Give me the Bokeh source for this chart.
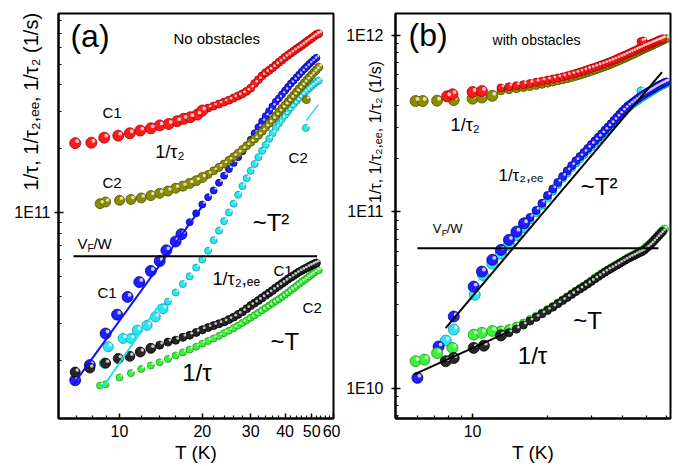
from bokeh.plotting import figure
from bokeh.layouts import row
from bokeh.models import FixedTicker, CustomJSTickFormatter, Label, Range1d
from bokeh.embed import file_html
from bokeh.resources import INLINE

FONT = "Liberation Sans"
E11 = 1e11  # all rate arrays below are in units of 1E11 1/s

# ------------------------- Panel (a): no obstacles -------------------------
a_C1_tau2_T = [6.9, 7.9, 8.8, 9.9, 10.9, 11.9, 13.0, 14.0, 15.1, 16.2, 17.1, 18.1, 19.2, 20.0,
               21, 22, 23, 24, 25, 26, 27, 28, 29, 30, 31, 32, 33, 34, 35, 36, 37, 38, 39, 40,
               41, 42, 43, 44, 45, 46, 47, 48, 49, 50, 51, 52, 53]
a_C1_tau2 = [2.12, 2.13, 2.25, 2.30, 2.36, 2.43, 2.49, 2.57, 2.61, 2.69, 2.76, 2.81, 2.89, 3.02,
             3.10, 3.17, 3.24, 3.31, 3.38, 3.46, 3.54, 3.62, 3.72, 3.85, 4.05, 4.22, 4.40, 4.55,
             4.67, 4.80, 4.95, 5.10, 5.23, 5.38, 5.50, 5.63, 5.76, 5.88, 6.00, 6.12, 6.25, 6.38,
             6.50, 6.62, 6.75, 6.88, 6.95]

a_C2_tau2_T = [8.5, 8.9, 10, 11, 12, 13, 14, 15, 16, 17, 18, 19, 20, 21, 22, 23, 24, 25, 26, 27,
               28, 29, 30, 31, 32, 33, 34, 35, 36, 37, 38, 39, 40, 41, 42, 43, 44, 45, 46, 47, 48,
               49, 50, 51, 52, 53, 47.8]
a_C2_tau2 = [1.10, 1.12, 1.14, 1.15, 1.17, 1.20, 1.23, 1.26, 1.30, 1.33, 1.37, 1.41, 1.46, 1.51,
             1.57, 1.63, 1.69, 1.76, 1.83, 1.90, 1.98, 2.06, 2.14, 2.22, 2.31, 2.41, 2.52, 2.63,
             2.74, 2.85, 2.97, 3.09, 3.20, 3.32, 3.44, 3.56, 3.69, 3.82, 3.95, 4.08, 4.20, 4.33,
             4.45, 4.58, 4.70, 4.83, 3.40]

a_C1_ee_T = [6.9, 7.8, 8.9, 9.8, 10.7, 11.8, 13.0, 14.0, 14.8, 16.0, 16.8, 18, 19, 20, 21, 22,
             23, 24, 25, 26, 27, 28, 29, 30, 31, 32, 33, 34, 35, 36, 37, 38, 39, 40, 41, 42, 43,
             44, 45, 46, 47, 48, 49, 50, 51, 52]
a_C1_ee = [0.162, 0.191, 0.269, 0.330, 0.40, 0.47, 0.53, 0.59, 0.663, 0.73, 0.79, 0.90, 0.99,
           1.09, 1.18, 1.27, 1.38, 1.49, 1.60, 1.71, 1.82, 1.94, 2.06, 2.20, 2.36, 2.52, 2.68,
           2.84, 3.00, 3.16, 3.32, 3.45, 3.60, 3.75, 3.90, 4.05, 4.18, 4.32, 4.46, 4.60, 4.74,
           4.87, 5.00, 5.12, 5.25, 5.35]

a_C2_ee_T = [8.8, 9.1, 10.3, 11.0, 11.6, 12.6, 13.5, 14.4, 15, 16, 17, 18, 19, 20, 21, 22, 23,
             24, 25, 26, 27, 28, 29, 30, 31, 32, 33, 34, 35, 36, 37, 38, 39, 40, 41, 42, 43, 44,
             45, 46, 47, 48, 49, 50, 51, 52, 53, 47.6]
a_C2_ee = [0.195, 0.233, 0.255, 0.255, 0.279, 0.294, 0.322, 0.352, 0.38, 0.42, 0.46, 0.50, 0.55,
           0.60, 0.66, 0.74, 0.82, 0.91, 1.00, 1.10, 1.21, 1.33, 1.45, 1.57, 1.69, 1.82, 1.95,
           2.08, 2.22, 2.36, 2.50, 2.63, 2.76, 2.88, 3.00, 3.12, 3.24, 3.35, 3.46, 3.57, 3.67,
           3.76, 3.85, 3.94, 4.03, 4.11, 4.18, 2.50]

a_C1_tau_T = [6.9, 7.8, 8.9, 9.9, 10.9, 11.9, 13, 14, 15, 16, 17, 18, 19, 20, 21, 22, 23, 24, 25,
              26, 27, 28, 29, 30, 31, 32, 33, 34, 35, 36, 37, 38, 39, 40, 41, 42, 43, 44, 45, 46,
              47, 48, 49, 50, 51, 52]
a_C1_tau = [0.177, 0.185, 0.195, 0.205, 0.210, 0.220, 0.229, 0.237, 0.245, 0.250, 0.258, 0.264,
            0.272, 0.280, 0.287, 0.293, 0.299, 0.305, 0.313, 0.321, 0.331, 0.341, 0.352, 0.364,
            0.374, 0.385, 0.396, 0.407, 0.418, 0.429, 0.441, 0.452, 0.463, 0.474, 0.485, 0.495,
            0.505, 0.515, 0.525, 0.533, 0.541, 0.549, 0.557, 0.564, 0.571, 0.578]

a_C2_tau_T = [8.5, 8.9, 10, 11, 12, 13, 14, 15, 16, 17, 18, 19, 20, 21, 22, 23, 24, 25, 26, 27,
              28, 29, 30, 31, 32, 33, 34, 35, 36, 37, 38, 39, 40, 41, 42, 43, 44, 45, 46, 47, 48,
              49, 50, 51, 52, 53]
a_C2_tau = [0.153, 0.155, 0.167, 0.175, 0.183, 0.190, 0.197, 0.204, 0.212, 0.219, 0.226, 0.233,
            0.241, 0.248, 0.255, 0.262, 0.270, 0.277, 0.285, 0.293, 0.302, 0.310, 0.319, 0.328,
            0.337, 0.346, 0.355, 0.364, 0.373, 0.382, 0.391, 0.400, 0.410, 0.420, 0.430, 0.440,
            0.450, 0.461, 0.471, 0.480, 0.490, 0.500, 0.510, 0.520, 0.530, 0.534]

a_fitC1_T = [6.8, 20.0]
a_fitC1 = [0.155, 1.07]
a_fitC2_T = [8.6, 14.0]
a_fitC2 = [0.147, 0.37]
a_markC2_T = [47.8, 52.9]
a_markC2 = [2.71, 3.22]
a_vfw_T = [6.8, 52.3]
a_vfw = [0.621, 0.621]

# ------------------------- Panel (b): with obstacles -----------------------
b_C1_tau2_T = [7.9, 8.3, 10.0, 10.9, 13, 14, 15, 16, 17, 18, 19, 20, 21, 22, 23, 24, 25, 26, 27,
               28, 29, 30, 31, 32, 33, 34, 35, 36, 37, 38, 39, 40, 41, 42, 43, 44, 45, 46, 47,
               48, 49, 50, 51, 52, 53, 54, 55, 56, 57, 58, 47.5, 48.5]
b_C1_tau2 = [4.52, 4.64, 4.78, 4.84, 5.04, 5.12, 5.19, 5.26, 5.34, 5.42, 5.50, 5.58, 5.66, 5.74,
             5.82, 5.91, 6.00, 6.10, 6.20, 6.30, 6.41, 6.51, 6.61, 6.71, 6.81, 6.92, 7.03, 7.14,
             7.25, 7.37, 7.49, 7.61, 7.73, 7.85, 7.97, 8.09, 8.21, 8.33, 8.45, 8.57, 8.67, 8.77,
             8.87, 8.97, 9.07, 9.17, 9.27, 9.37, 9.47, 9.57, 9.20, 9.30]

b_C2_tau2_T = [5.9, 6.3, 7.2, 8.4, 10.0, 10.9, 12.0, 13, 14, 15, 16, 17, 18, 19, 20, 21, 22, 23,
               24, 25, 26, 27, 28, 29, 30, 31, 32, 33, 34, 35, 36, 37, 38, 39, 40, 41, 42, 43, 44,
               45, 46, 47, 48, 49, 50, 51, 52, 53, 54, 55, 56, 57, 58, 59, 60]
b_C2_tau2 = [4.25, 4.25, 4.27, 4.30, 4.38, 4.45, 4.55, 4.85, 4.92, 4.99, 5.06, 5.13, 5.21, 5.28,
             5.36, 5.44, 5.52, 5.60, 5.68, 5.77, 5.86, 5.95, 6.05, 6.15, 6.25, 6.35, 6.45, 6.55,
             6.65, 6.76, 6.87, 6.98, 7.09, 7.20, 7.32, 7.43, 7.55, 7.67, 7.78, 7.90, 8.02, 8.14,
             8.26, 8.37, 8.48, 8.59, 8.70, 8.81, 8.92, 9.03, 9.14, 9.25, 9.36, 9.47, 9.58]

b_C1_ee_T = [6.0, 7.3, 8.4, 10.1, 10.9, 12.0, 13.0, 14.0, 15.0, 16.1, 17, 18, 19, 20, 21, 22, 23,
             24, 25, 26, 27, 28, 29, 30, 31, 32, 33, 34, 35, 36, 37, 38, 39, 40, 41, 42, 43, 44,
             45, 46, 47, 48, 49, 50, 51, 52, 53, 54, 55, 56, 57, 58, 59, 60]
b_C1_ee = [0.115, 0.173, 0.256, 0.378, 0.46, 0.536, 0.61, 0.695, 0.774, 0.863, 0.93, 1.02, 1.12,
           1.24, 1.35, 1.47, 1.59, 1.71, 1.83, 1.95, 2.06, 2.17, 2.29, 2.41, 2.53, 2.65, 2.77,
           2.90, 3.03, 3.16, 3.30, 3.44, 3.58, 3.72, 3.85, 3.98, 4.08, 4.18, 4.28, 4.38, 4.48,
           4.57, 4.65, 4.73, 4.81, 4.89, 4.97, 5.05, 5.13, 5.20, 5.27, 5.33, 5.40, 5.45]

b_C2_ee_T = [7.8, 8.4, 10.2, 11.0, 12.0, 13.0, 14.0, 15.0, 16.0, 17, 18, 19, 20, 21, 22, 23, 24,
             25, 26, 27, 28, 29, 30, 31, 32, 33, 34, 35, 36, 37, 38, 39, 40, 41, 42, 43, 44, 45,
             46, 47, 48, 49, 50, 51, 52, 53, 54, 55, 56, 57, 58, 59, 60, 47.5]
b_C2_ee = [0.187, 0.216, 0.34, 0.44, 0.51, 0.58, 0.65, 0.74, 0.82, 0.90, 0.99, 1.09, 1.20, 1.31,
           1.43, 1.55, 1.66, 1.78, 1.89, 2.00, 2.11, 2.23, 2.34, 2.46, 2.58, 2.70, 2.83, 2.95,
           3.08, 3.21, 3.35, 3.48, 3.62, 3.75, 3.87, 3.98, 4.08, 4.18, 4.27, 4.37, 4.46, 4.54,
           4.62, 4.70, 4.78, 4.86, 4.94, 5.02, 5.09, 5.16, 5.22, 5.29, 5.34, 4.85]

b_C1_tau_T = [7.8, 8.4, 10.1, 11.1, 13.0, 14, 15, 16, 17, 18, 19, 20, 21, 22, 23, 24, 25, 26, 27,
              28, 29, 30, 31, 32, 33, 34, 35, 36, 37, 38, 39, 40, 41, 42, 43, 44, 45, 46, 47, 48,
              49, 50, 51, 52, 53, 54, 55, 56, 57, 58]
b_C1_tau = [0.143, 0.149, 0.170, 0.175, 0.200, 0.207, 0.217, 0.229, 0.241, 0.253, 0.265, 0.277,
            0.289, 0.302, 0.315, 0.328, 0.341, 0.354, 0.366, 0.378, 0.391, 0.404, 0.418, 0.431,
            0.444, 0.456, 0.468, 0.478, 0.489, 0.500, 0.511, 0.522, 0.533, 0.544, 0.553, 0.562,
            0.571, 0.580, 0.589, 0.597, 0.610, 0.625, 0.640, 0.657, 0.675, 0.695, 0.715, 0.735,
            0.755, 0.775]

b_C2_tau_T = [5.9, 6.4, 7.2, 8.3, 10.1, 10.9, 12.0, 13, 14, 15, 16, 17, 18, 19, 20, 21, 22, 23,
              24, 25, 26, 27, 28, 29, 30, 31, 32, 33, 34, 35, 36, 37, 38, 39, 40, 41, 42, 43, 44,
              45, 46, 47, 48, 49, 50, 51, 52, 53, 54, 55, 56, 57, 58, 59]
b_C2_tau = [0.143, 0.146, 0.159, 0.170, 0.202, 0.207, 0.212, 0.215, 0.219, 0.226, 0.235, 0.246,
            0.257, 0.268, 0.280, 0.292, 0.305, 0.318, 0.331, 0.344, 0.357, 0.369, 0.381, 0.394,
            0.407, 0.421, 0.434, 0.447, 0.459, 0.471, 0.482, 0.493, 0.504, 0.515, 0.526, 0.537,
            0.548, 0.558, 0.567, 0.577, 0.587, 0.597, 0.607, 0.620, 0.635, 0.650, 0.667, 0.685,
            0.705, 0.725, 0.745, 0.765, 0.785, 0.800]

b_fitT2_T = [7.79, 57.7]
b_fitT2 = [0.22, 6.2]
b_fitT_T = [5.8, 14.0]
b_fitT = [0.12, 0.21]
b_vfw_T = [6.0, 55.8]
b_vfw = [0.623, 0.623]

# tick values
a_xticks = [10, 20, 30, 40, 50, 60]
a_xminor = [7, 8, 9, 12, 14, 16, 18, 22, 24, 26, 28, 32, 34, 36, 38, 42, 44, 46, 48, 52, 54, 56, 58]
a_yticks = [1e11]
a_yminor = [2e10, 3e10, 4e10, 5e10, 6e10, 7e10, 8e10, 9e10, 2e11, 3e11, 4e11, 5e11, 6e11, 7e11, 8e11]
b_xticks = [10]
b_xminor = [5, 6, 7, 8, 9, 20, 30, 40, 50, 60]
b_yticks = [1e10, 1e11, 1e12]
b_yminor = [7e9, 8e9, 9e9, 2e10, 3e10, 4e10, 5e10, 6e10, 7e10, 8e10, 9e10,
            2e11, 3e11, 4e11, 5e11, 6e11, 7e11, 8e11, 9e11]

COL = {
    "red": ("#ff1a1a", "#a00000"),
    "olive": ("#8c8c00", "#4d4d00"),
    "blue": ("#2020ff", "#00008c"),
    "cyan": ("#2ee6f0", "#0099a8"),
    "black": ("#262626", "#000000"),
    "green": ("#3cf03c", "#10a010"),
}

LEFT_PANEL = 80  # fixed left border; the figures are shifted left so frames land in place


def make_fig(width, xr, yr, frame_left, right, top, bottom, xt, xm, yt, ym):
    shift = LEFT_PANEL - frame_left
    p = figure(width=width + shift, height=466, x_axis_type="log", y_axis_type="log",
               x_range=Range1d(*xr), y_range=Range1d(*yr),
               output_backend="svg", toolbar_location=None,
               min_border_left=LEFT_PANEL, min_border_right=right,
               min_border_top=top, min_border_bottom=bottom)
    p.margin = (0, 0, 0, -shift)
    p.xgrid.visible = False
    p.ygrid.visible = False
    p.background_fill_color = "white"
    p.border_fill_color = "white"
    p.outline_line_color = "black"
    p.outline_line_width = 2
    p.xaxis.ticker = FixedTicker(ticks=xt, minor_ticks=xm)
    p.yaxis.ticker = FixedTicker(ticks=yt, minor_ticks=ym)
    p.xaxis.formatter = CustomJSTickFormatter(code="return tick.toFixed(0)")
    p.yaxis.formatter = CustomJSTickFormatter(
        code="return tick.toExponential(0).toUpperCase().replace('+','')")
    for ax in (p.xaxis[0], p.yaxis[0]):
        ax.axis_line_width = 2
        ax.major_tick_line_width = 1.5
        ax.minor_tick_line_width = 1.2
        ax.major_label_text_font = FONT
        ax.major_label_text_font_size = "16px"
        ax.major_label_text_color = "black"
        ax.axis_label_text_font = FONT
        ax.axis_label_text_font_style = "normal"
        ax.axis_label_text_color = "black"
    p.xaxis.major_tick_in = 5
    p.xaxis.major_tick_out = 0
    p.xaxis.minor_tick_in = 3
    p.xaxis.minor_tick_out = 0
    p.xaxis.axis_label = "T (K)"
    p.xaxis.axis_label_text_font_size = "19px"
    p.yaxis.major_tick_in = 5
    p.yaxis.major_tick_out = 4
    p.yaxis.minor_tick_in = 3
    p.yaxis.minor_tick_out = 0
    return p


def series(p, T, V, key, big, small, dense_from, hx, hy):
    fill, edge = COL[key]
    Y = [v * E11 for v in V]
    groups = [([t for t in T if t >= dense_from], [y for t, y in zip(T, Y) if t >= dense_from], small),
              ([t for t in T if t < dense_from], [y for t, y in zip(T, Y) if t < dense_from], big)]
    for xs, ys, s in groups:
        if not xs:
            continue
        p.scatter(xs, ys, size=s, fill_color=fill, line_color=edge, line_width=0.8)
        p.scatter([x * hx for x in xs], [y * hy for y in ys], size=s * 0.35,
                  fill_color="white", fill_alpha=0.75, line_color=None)


def line(p, T, V, color, width=2):
    p.line(T, [v * E11 for v in V], line_color=color, line_width=width)


def txt(p, x, y, text, size, xo=0, yo=0):
    p.add_layout(Label(x=x, y=y, text=text, text_font=FONT, text_font_size=f"{size}px",
                       text_align="left", text_baseline="middle",
                       x_offset=xo, y_offset=yo, text_color="black"))


def ytitle(p, x, y, text, size):
    # rotated axis title, placed in the left border panel (outside the frame)
    p.add_layout(Label(x=x, y=y, text=text, text_font=FONT, text_font_size=f"{size}px",
                       text_align="left", text_baseline="middle", angle=90,
                       angle_units="deg", text_color="black"), "left")


TAU = "\u03c4"
SUB2 = "\u2082"
SUBE = "\u2091"
YTITLE = f"1/{TAU},  1/{TAU}{SUB2},{SUBE}{SUBE}, 1/{TAU}{SUB2} (1/s)"

# ------------------------------- figure (a) --------------------------------
AX = (6, 60)
AY = (1.07e10, 8.65e11)
pa = make_fig(340, AX, AY, 58, 7, 13, 48, a_xticks, a_xminor, a_yticks, a_yminor)
pa.xaxis.major_label_standoff = 6
pa.xaxis.axis_label_standoff = 2
pa.yaxis.major_label_standoff = 4
hxa = (AX[1] / AX[0]) ** (2 / 275)
hya = (AY[1] / AY[0]) ** (2 / 405)

series(pa, a_C2_ee_T, a_C2_ee, "cyan", 10, 7, 15, hxa, hya)
series(pa, a_C1_ee_T, a_C1_ee, "blue", 11, 7, 17, hxa, hya)
series(pa, a_C2_tau2_T, a_C2_tau2, "olive", 10, 8, 21, hxa, hya)
series(pa, a_C1_tau2_T, a_C1_tau2, "red", 11, 8, 21, hxa, hya)
series(pa, a_C2_tau_T, a_C2_tau, "green", 7, 7, 0, hxa, hya)
series(pa, a_C1_tau_T, a_C1_tau, "black", 10, 8, 14, hxa, hya)
line(pa, a_fitC1_T, a_fitC1, "#1010ff")
line(pa, a_fitC2_T, a_fitC2, "#20e0f0")
line(pa, a_markC2_T, a_markC2, "#20e0f0", 1.5)
line(pa, a_vfw_T, a_vfw, "black")

txt(pa, 6.63, 6.8e11, "(a)", 32)
txt(pa, 15.7, 6.58e11, "No obstacles", 15)
txt(pa, 8.67, 2.95e11, "C1", 15)
txt(pa, 13.5, 1.92e11, f"1/{TAU}{SUB2}", 18)
txt(pa, 8.67, 1.38e11, "C2", 15)
txt(pa, 41.2, 1.81e11, "C2", 15)
txt(pa, 30.5, 8.97e10, "~T\u00b2", 24)
txt(pa, 7.03, 7.15e10, "V", 15)
txt(pa, 7.03, 7.15e10, "F", 10, xo=10, yo=-5)
txt(pa, 7.03, 7.15e10, "/W", 15, xo=16)
txt(pa, 8.32, 4.2e10, "C1", 15)
txt(pa, 21.8, 4.84e10, f"1/{TAU}{SUB2},{SUBE}{SUBE}", 18)
txt(pa, 36.3, 5.33e10, "C1", 15)
txt(pa, 46.3, 3.57e10, "C2", 15)
txt(pa, 35.4, 2.47e10, "~T", 24)
txt(pa, 16.9, 1.77e10, f"1/{TAU}", 24)
ytitle(pa, 4.75, 1.27e11, YTITLE, 20)

# ------------------------------- figure (b) --------------------------------
BX = (4.9, 62.4)
BY = (6.77e9, 1.33e12)
pb = make_fig(338, BX, BY, 55, 8, 13, 48, b_xticks, b_xminor, b_yticks, b_yminor)
pb.border_fill_alpha = 0
pb.xaxis.major_label_standoff = 6
pb.xaxis.axis_label_standoff = 2
pb.yaxis.major_label_standoff = 8
hxb = (BX[1] / BX[0]) ** (2 / 275)
hyb = (BY[1] / BY[0]) ** (2 / 405)

series(pb, b_C2_tau2_T, b_C2_tau2, "olive", 11, 8, 13, hxb, hyb)
series(pb, b_C1_tau2_T, b_C1_tau2, "red", 11, 8, 13, hxb, hyb)
series(pb, b_C2_ee_T, b_C2_ee, "cyan", 11, 8, 17, hxb, hyb)
series(pb, b_C1_ee_T, b_C1_ee, "blue", 11, 8, 17, hxb, hyb)
series(pb, b_C2_tau_T, b_C2_tau, "green", 11, 8, 13, hxb, hyb)
series(pb, b_C1_tau_T, b_C1_tau, "black", 11, 8, 14, hxb, hyb)
line(pb, b_fitT2_T, b_fitT2, "black")
line(pb, b_fitT_T, b_fitT, "black")
line(pb, b_vfw_T, b_vfw, "black")

txt(pb, 5.53, 1.0e12, "(b)", 32)
txt(pb, 12.03, 9.37e11, "with obstacles", 14)
txt(pb, 8.16, 3.10e11, f"1/{TAU}{SUB2}", 18)
txt(pb, 12.7, 1.6e11, f"1/{TAU}{SUB2},{SUBE}{SUBE}", 17)
txt(pb, 27.2, 1.40e11, "~T\u00b2", 24)
txt(pb, 6.91, 8.01e10, "V", 13)
txt(pb, 6.91, 8.01e10, "F", 9, xo=9, yo=-4)
txt(pb, 6.91, 8.01e10, "/W", 13, xo=14)
txt(pb, 25.4, 2.42e10, "~T", 24)
txt(pb, 15.2, 1.54e10, f"1/{TAU}", 24)
ytitle(pb, 4.08, 1.124e11, YTITLE, 16)

layout = row(pa, pb)
open("out.html", "w").write(file_html(layout, INLINE))
